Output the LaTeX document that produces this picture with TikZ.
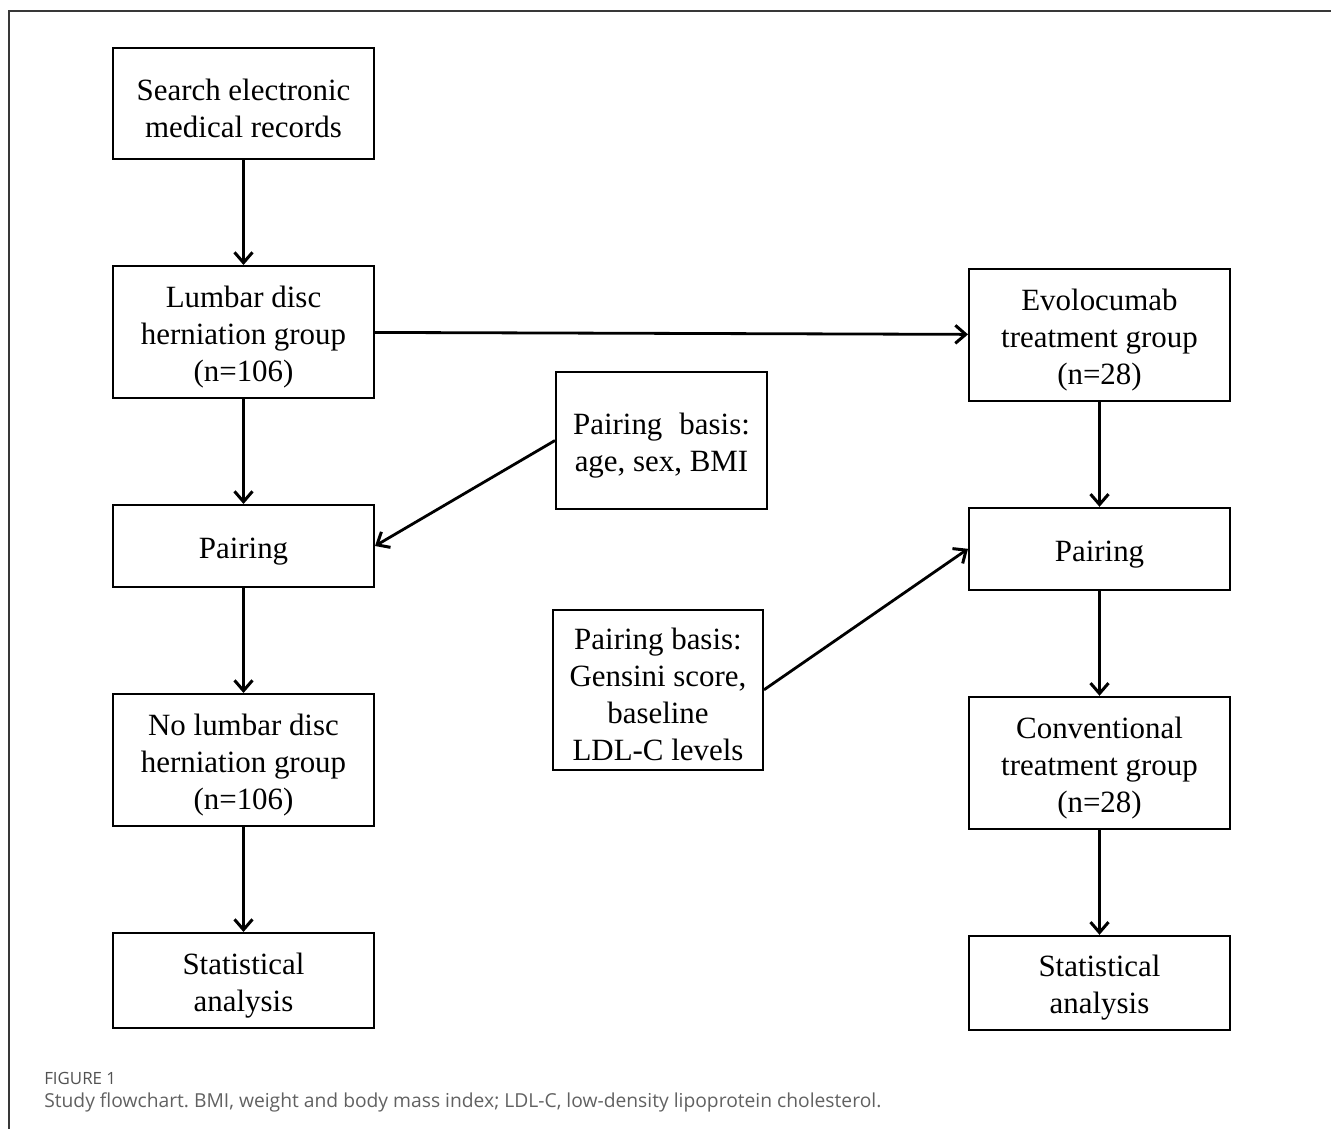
\documentclass[tikz,border=0pt]{standalone}
\usepackage{fontspec}
\setmainfont{Liberation Serif}
\newfontfamily\capfont{Open Sans}
\usetikzlibrary{positioning,arrows.meta}
\frenchspacing
\newcommand\up{\rule{0pt}{0.78cm}}

\begin{document}
\begin{tikzpicture}[
  box/.style={draw, line width=0.05cm, minimum width=6.525cm, align=center, inner sep=0pt,
    font=\fontsize{22}{26.3}\selectfont},
  arr/.style={-{Straight Barb[length=0.26cm,width=0.45cm,line width=0.075cm]}, line width=0.07cm},
  node distance=2.625cm
]
\useasboundingbox (0,0) rectangle (33.275,-28.225);
\draw[line width=0.05cm, black!78] (33.275,-0.275) -- (0.225,-0.275) -- (0.225,-28.225);

% left column
\node[box, minimum height=2.775cm] (a) at (6.0875,-2.5875) {\up Search electronic\\medical records};
\node[box, minimum height=3.3cm, below=of a] (b) {\up Lumbar disc\\herniation group\\(n=106)};
\node[box, minimum height=2.05cm, below=of b] (c) {\up Pairing};
\node[box, minimum height=3.3cm, below=of c] (d) {\up No lumbar disc\\herniation group\\(n=106)};
\node[box, minimum height=2.375cm, below=of d] (e) {\up Statistical\\analysis};

% right column
\node[box, minimum height=3.3cm, right=14.825cm of b, yshift=-0.07cm] (f) {\up Evolocumab\\treatment group\\(n=28)};
\node[box, minimum height=2.05cm, below=of f] (g) {\up Pairing};
\node[box, minimum height=3.3cm, below=of g] (h) {\up Conventional\\treatment group\\(n=28)};
\node[box, minimum height=2.35cm, below=of h] (i) {\up Statistical\\analysis};

% pairing bases
\node[box, minimum width=5.275cm, minimum height=3.425cm, right=4.5cm of c, yshift=2.6375cm] (l)
  {\up Pairing\hspace{0.3em} basis:\\age, sex, BMI};
\node[box, minimum width=5.25cm, minimum height=4cm, left=5.1cm of g, yshift=-3.525cm] (m)
  {\up Pairing basis:\\Gensini score,\\baseline\\LDL-C levels};

\draw[arr] (a) -- (b);
\draw[arr] (b) -- (c);
\draw[arr] (c) -- (d);
\draw[arr] (d) -- (e);
\draw[arr] (b) -- (f);
\draw[arr] (f) -- (g);
\draw[arr] (g) -- (h);
\draw[arr] (h) -- (i);
\draw[arr] (l.west) -- (c.east);
\draw[arr] (m.east) -- (g.west);

% caption
\node[anchor=base west, inner sep=0, text=black!68, font=\capfont\fontsize{12}{14}\selectfont] (fig) at (1.1,-27.12) {FIGURE 1};
\node[anchor=base west, inner sep=0, text=black!62, font=\capfont\fontsize{13.7}{16}\selectfont] (cap) at (1.1,-27.68)
  {Study flowchart. BMI, weight and body mass index; LDL-C, low-density lipoprotein cholesterol.};
\end{tikzpicture}
\end{document}
